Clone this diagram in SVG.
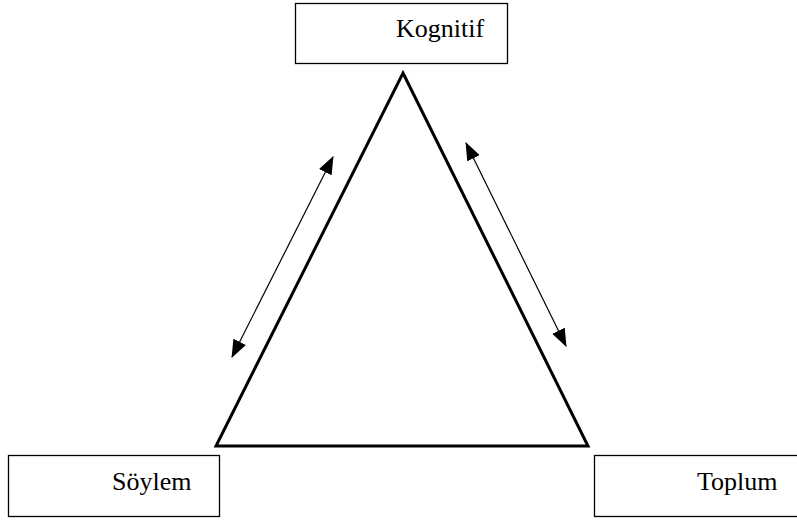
<svg xmlns="http://www.w3.org/2000/svg" width="797" height="520" viewBox="0 0 797 520">
<style>
.box{fill:#fff;stroke:#000;stroke-width:1.3}
.lbl{font-family:"Liberation Serif","Times New Roman",serif;font-size:26px;fill:#000}
.arr{stroke:#000;stroke-width:1.2;fill:none;marker-start:url(#ah);marker-end:url(#ah)}
</style>
<defs>
<marker id="ah" viewBox="0 0 18 14" refX="17" refY="7" markerWidth="18" markerHeight="14" markerUnits="userSpaceOnUse" orient="auto-start-reverse">
<path d="M0,0 L18,7 L0,14 Z" fill="#000"/>
</marker>
</defs>
<rect width="797" height="520" fill="#fff"/>
<g id="triangle">
<path d="M403,73 L588,446 L216,446 Z" fill="none" stroke="#000" stroke-width="3" stroke-linejoin="miter"/>
</g>
<g id="kognitif">
<rect class="box" x="295.5" y="3.5" width="212" height="60"/>
<text class="lbl" x="396" y="37">Kognitif</text>
</g>
<g id="soylem">
<rect class="box" x="8.5" y="455.5" width="211" height="61"/>
<text class="lbl" x="112" y="490">Söylem</text>
</g>
<g id="toplum">
<rect class="box" x="594.5" y="455.5" width="210" height="61"/>
<text class="lbl" x="697" y="490">Toplum</text>
</g>
<g id="connectors">
<line class="arr" x1="232" y1="357" x2="333" y2="157"/>
<line class="arr" x1="466" y1="143" x2="566" y2="346"/>
</g>
</svg>
